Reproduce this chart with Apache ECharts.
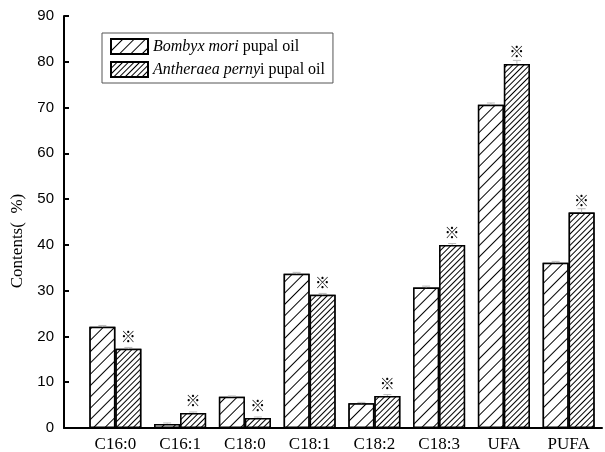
<!DOCTYPE html>
<html>
<head>
<meta charset="utf-8">
<script src="https://cdn.jsdelivr.net/npm/echarts@6/dist/echarts.min.js"></script>
<style>
  html, body { margin: 0; padding: 0; background: #fff; }
  #chart { width: 605px; height: 452px; }
</style>
</head>
<body>
<div id="chart"></div>
<script>
// fatty acid categories
var categories = ['C16:0', 'C16:1', 'C18:0', 'C18:1', 'C18:2', 'C18:3', 'UFA', 'PUFA'];
// Bombyx mori pupal oil
var bombyx = [22.1, 0.9, 6.8, 33.7, 5.4, 30.7, 70.6, 36.1];
var bombyxErr = [0.3, 0.2, 0.2, 0.3, 0.2, 0.3, 0.4, 0.3];
// Antheraea pernyi pupal oil
var pernyi = [17.3, 3.3, 2.2, 29.1, 7.0, 40.0, 79.5, 47.1];
var pernyiErr = [0.3, 0.2, 0.2, 0.3, 0.3, 0.3, 0.8, 0.8];
var yTicks = [0, 10, 20, 30, 40, 50, 60, 70, 80, 90];

var serif = '"Liberation Serif", "Times New Roman", serif';
var sans = '"Liberation Sans", Arial, sans-serif';
var barW = 26;

var chart = echarts.init(document.getElementById('chart'));

function errSeries(name, vals, errs, shift) {
    return {
        type: 'custom',
        name: name + ' err',
        xAxisIndex: 1,
        yAxisIndex: 1,
        silent: true,
        z: 5,
        data: vals.map(function(v, i) { return [i, v, errs[i]]; }),
        renderItem: function(params, api) {
            var i = api.value(0), v = api.value(1), e = api.value(2);
            var top = api.coord([i, v + e]);
            var base = api.coord([i, v]);
            var x = top[0] + shift;
            return {
                type: 'group',
                children: [
                    {type: 'line', shape: {x1: x, y1: top[1], x2: x, y2: base[1]}, style: {stroke: '#bbb', lineWidth: 1}},
                    {type: 'line', shape: {x1: x - 4, y1: top[1], x2: x + 4, y2: top[1]}, style: {stroke: '#bbb', lineWidth: 1}}
                ]
            };
        }
    };
}

var option = {
    backgroundColor: '#fff',
    animation: false,
    grid: [
        {left: 64, right: 3, top: 16, bottom: 24, containLabel: false, outerBoundsMode: 'none'},
        {left: 83, right: 4, top: 16, bottom: 24, containLabel: false, outerBoundsMode: 'none'}
    ],
    legend: {
        left: 102,
        top: 33,
        orient: 'vertical',
        padding: [5, 8, 5, 8],
        itemGap: 6,
        itemWidth: 37,
        itemHeight: 15,
        icon: 'rect',
        borderColor: '#555',
        borderWidth: 1,
        data: ['Bombyx mori pupal oil', 'Antheraea pernyi pupal oil'],
        formatter: function(name) {
            if (name.indexOf('Bombyx') === 0) {
                return '{i|Bombyx mori} pupal oil';
            }
            return '{i|Antheraea perny}i pupal oil';
        },
        textStyle: {
            fontFamily: serif,
            fontSize: 16,
            color: '#000',
            rich: {
                i: {fontFamily: serif, fontSize: 16, fontStyle: 'italic', color: '#000'}
            }
        }
    },
    xAxis: [
        {
            type: 'value',
            gridIndex: 0,
            min: 0,
            max: 1,
            axisLine: {show: true, lineStyle: {color: '#000', width: 2}},
            axisTick: {show: false},
            axisLabel: {show: false},
            splitLine: {show: false}
        },
        {
            type: 'category',
            gridIndex: 1,
            data: categories,
            axisLine: {show: false},
            axisTick: {show: false},
            axisLabel: {fontFamily: serif, fontSize: 17, color: '#000', margin: 8},
            splitLine: {show: false}
        }
    ],
    yAxis: [
        {
            type: 'value',
            gridIndex: 0,
            min: 0,
            max: 90,
            interval: 10,
            name: 'Contents(  %)',
            nameLocation: 'middle',
            nameGap: 30,
            nameTextStyle: {fontFamily: serif, fontSize: 17, color: '#000', padding: [0, 38, 0, 0]},
            axisLine: {show: true, lineStyle: {color: '#000', width: 2}},
            axisTick: {show: true, inside: true, length: 5, lineStyle: {color: '#000', width: 2}},
            axisLabel: {
                fontFamily: sans,
                fontSize: 15,
                color: '#000',
                margin: 10,
                formatter: function(v) { return yTicks.indexOf(v) > -1 ? String(v) : ''; }
            },
            splitLine: {show: false}
        },
        {
            type: 'value',
            gridIndex: 1,
            min: 0,
            max: 90,
            interval: 10,
            show: false,
            splitLine: {show: false}
        }
    ],
    series: [
        {
            name: 'Bombyx mori pupal oil',
            type: 'bar',
            xAxisIndex: 1,
            yAxisIndex: 1,
            barWidth: barW,
            barGap: '0%',
            data: bombyx,
            itemStyle: {
                color: '#fff',
                borderColor: '#000',
                borderWidth: 1.5,
                decal: {
                    symbol: 'rect',
                    symbolSize: 1,
                    color: '#000',
                    backgroundColor: '#fff',
                    dashArrayX: [1, 0],
                    dashArrayY: [1, 7],
                    rotation: -Math.PI / 4
                }
            }
        },
        {
            name: 'Antheraea pernyi pupal oil',
            type: 'bar',
            xAxisIndex: 1,
            yAxisIndex: 1,
            barWidth: barW,
            data: pernyi,
            itemStyle: {
                color: '#fff',
                borderColor: '#000',
                borderWidth: 1.5,
                decal: {
                    symbol: 'rect',
                    symbolSize: 1,
                    color: '#000',
                    backgroundColor: '#fff',
                    dashArrayX: [1, 0],
                    dashArrayY: [1, 2.5],
                    rotation: -Math.PI / 4
                }
            },
            label: {
                show: true,
                position: 'top',
                distance: 5,
                formatter: '※',
                fontFamily: '"Noto Sans CJK SC", sans-serif',
                fontSize: 15,
                color: '#000'
            }
        },
        errSeries('Bombyx mori pupal oil', bombyx, bombyxErr, -barW / 2),
        errSeries('Antheraea pernyi pupal oil', pernyi, pernyiErr, barW / 2)
    ]
};

chart.setOption(option);
</script>
</body>
</html>
